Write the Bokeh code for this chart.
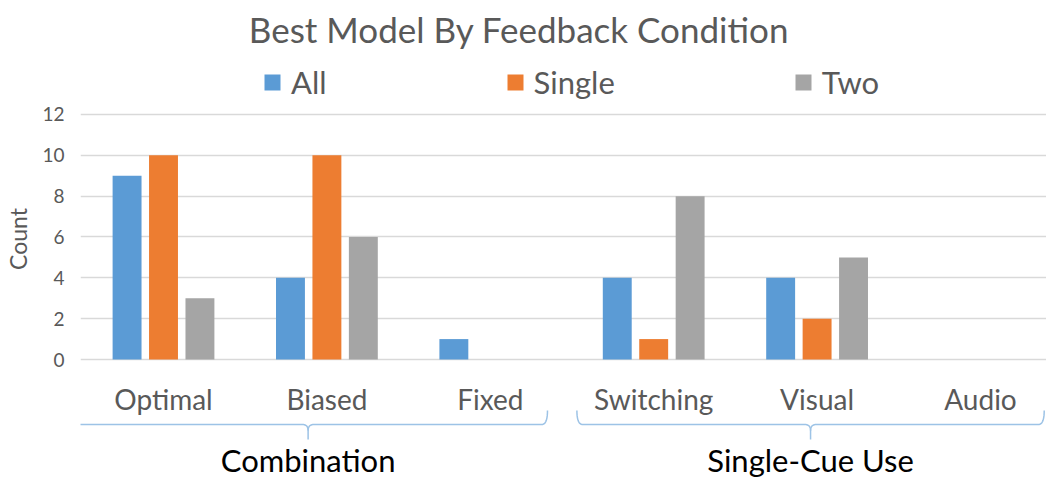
import numpy as np
from bokeh.plotting import figure
from bokeh.models import (Range1d, Legend, LegendItem, Label,
                          FixedTicker, ColumnDataSource)
from bokeh.transform import dodge
from bokeh.core.properties import value
from bokeh.embed import file_html
from bokeh.resources import INLINE

# ---- data ----
categories = ["Optimal", "Biased", "Fixed", "Switching", "Visual", "Audio"]
all_counts = [9, 4, 1, 4, 4, 0]
single_counts = [10, 10, 0, 1, 2, 0]
two_counts = [3, 6, 0, 8, 5, 0]
series_names = ["All", "Single", "Two"]
groups = ["Combination", "Single-Cue Use"]
y_ticks = [0, 2, 4, 6, 8, 10, 12]
title_text = "Best Model By Feedback Condition"
y_label = "Count"

# ---- style / layout ----
FONT = "Lato"
COLORS = ["#5B9BD5", "#ED7D31", "#A5A5A5"]
GRAY_TXT = "#595959"
W, H = 1046, 477
LEFT = 80
PX = 20.42          # pixels per count unit
ZERO_Y = 359        # pixel row of count 0
def yv(px):         # pixel row -> data y (layout helper)
    return (ZERO_Y - px) / PX

xpos = list(range(len(categories)))
src = ColumnDataSource(dict(x=xpos, cat=categories, a=all_counts, s=single_counts, t=two_counts))

p = figure(width=W, height=H, output_backend="svg", toolbar_location=None,
           x_range=Range1d(-0.508, 5.404),
           y_range=Range1d(yv(H), yv(0)),
           min_border_top=0, min_border_left=LEFT, min_border_right=0,
           min_border_bottom=0)
p.outline_line_color = None
p.background_fill_color = "white"
p.xaxis.visible = False
p.xgrid.visible = False
p.yaxis.ticker = FixedTicker(ticks=y_ticks)
p.ygrid.ticker = FixedTicker(ticks=y_ticks)
p.ygrid.grid_line_color = "#D9D9D9"
p.ygrid.grid_line_width = 1.3
p.yaxis.axis_line_color = None
p.yaxis.major_tick_line_color = None
p.yaxis.minor_tick_line_color = None
p.yaxis.major_tick_out = 0
p.yaxis.major_tick_in = 0
p.yaxis.major_label_text_font = FONT
p.yaxis.major_label_text_font_size = "19px"
p.yaxis.major_label_text_color = GRAY_TXT
p.yaxis.major_label_standoff = 16
p.yaxis.axis_label = y_label
p.yaxis.axis_label_text_font = FONT
p.yaxis.axis_label_text_font_size = "23px"
p.yaxis.axis_label_text_font_style = "normal"
p.yaxis.axis_label_text_color = GRAY_TXT
p.yaxis.axis_label_standoff = 7

# title
p.add_layout(Label(x=2.176, y=yv(28.5), text=title_text, text_font=FONT,
                   text_font_size="35px", text_color=GRAY_TXT,
                   text_align="center", text_baseline="middle"))

bw = 0.177
offs = [-0.223, 0.0, 0.223]
rends = []
for col, off, c in zip(["a", "s", "t"], offs, COLORS):
    r = p.vbar(x=dodge("x", off), top=col, width=bw, bottom=0, source=src,
               fill_color=c, line_color=None)
    rends.append(r)

legend = Legend(items=[LegendItem(label=n, renderers=[r]) for n, r in zip(series_names, rends)],
                orientation="horizontal", location=(182, 376),
                label_text_font=FONT, label_text_font_size="31px",
                label_text_color=GRAY_TXT, glyph_width=20, glyph_height=20,
                label_standoff=9, spacing=178, label_width=0, padding=0, margin=0,
                border_line_color=None, background_fill_alpha=0)
p.add_layout(legend, "center")

# category labels
p.text(x="x", y=yv(398), text="cat", source=src, text_font=value(FONT),
       text_font_size="28px", text_color=GRAY_TXT, text_align="center",
       text_baseline="middle")

# braces & group labels
BR = "#9DC3E6"
brace_spans = [(-0.58, 2.35), (2.53, 5.39)]
t = np.linspace(0, 1, 12)
def qb(p0, p1, p2):
    return ((1 - t) ** 2 * p0[0] + 2 * (1 - t) * t * p1[0] + t ** 2 * p2[0],
            (1 - t) ** 2 * p0[1] + 2 * (1 - t) * t * p1[1] + t ** 2 * p2[1])

yb_top, yb_mid, yb_tip = yv(410), yv(424), yv(439)
rx, ry = 0.035, 0.3
for g, (x0, x1) in zip(groups, brace_spans):
    xc = (x0 + x1) / 2
    xs, ys = [], []
    for seg in [qb((x0, yb_top), (x0, yb_mid), (x0 + rx, yb_mid)),
                qb((xc - rx, yb_mid), (xc, yb_mid), (xc, yb_mid - ry)),
                (np.array([xc, xc]), np.array([yb_mid - ry, yb_tip]))]:
        xs += list(seg[0]); ys += list(seg[1])
    p.line(xs, ys, line_color=BR, line_width=1.5)
    xs2, ys2 = [], []
    for seg in [qb((xc, yb_mid - ry), (xc, yb_mid), (xc + rx, yb_mid)),
                qb((x1 - rx, yb_mid), (x1, yb_mid), (x1, yb_top))]:
        xs2 += list(seg[0]); ys2 += list(seg[1])
    p.line(xs2, ys2, line_color=BR, line_width=1.5)
    p.text(x=[xc], y=[yv(459)], text=[g], text_font=value(FONT),
           text_font_size="31px", text_color="black", text_align="center",
           text_baseline="middle")

open("out.html", "w").write(file_html(p, INLINE))
